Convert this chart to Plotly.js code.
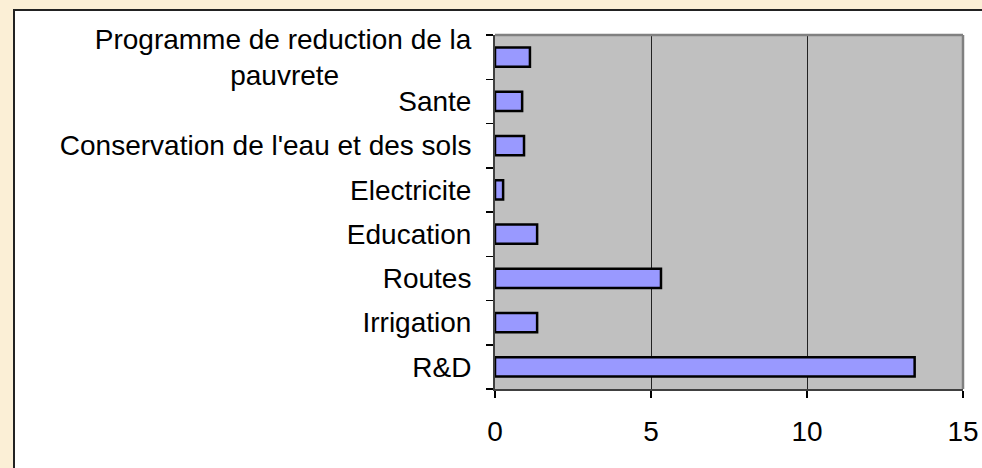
<!DOCTYPE html>
<html>
<head>
<meta charset="utf-8">
<script src="https://cdn.plot.ly/plotly-3.0.1.min.js"></script>
<style>
  html, body { margin: 0; padding: 0; }
  body { width: 982px; height: 468px; overflow: hidden; position: relative;
         background: #fbefd6; }
  #sheet { position: absolute; left: 13px; top: 9px; width: 990px; height: 480px;
           background: #ffffff; border-left: 2px solid #222; border-top: 2px solid #222; }
  #chart { position: absolute; left: 0; top: 0; width: 982px; height: 468px; }
</style>
</head>
<body>
<div id="sheet"></div>
<div id="chart"></div>
<script>
// Categories, bottom to top as drawn
const categories = ['R&D', 'Irrigation', 'Routes', 'Education', 'Electricite',
  "Conservation de l'eau et des sols", 'Sante', 'Programme de reduction de la pauvrete'];

// Tick labels (the long one is wrapped and its second line centred)
const pad = '\u00a0'.repeat(17);
const tickLabels = ['R&D', 'Irrigation', 'Routes', 'Education', 'Electricite',
  "Conservation de l'eau et des sols", 'Sante', 'Programme de reduction de la<br>pauvrete' + pad];

const values = [13.45, 1.35, 5.32, 1.35, 0.26, 0.93, 0.87, 1.12];

const xTicks = [0, 5, 10, 15];

const trace = {
  type: 'bar',
  orientation: 'h',
  y: categories,
  x: values,
  marker: { color: '#9999ff', line: { color: '#000000', width: 2.5 } },
  hoverinfo: 'x+y'
};

const layout = {
  width: 982,
  height: 468,
  paper_bgcolor: 'rgba(0,0,0,0)',
  plot_bgcolor: '#c0c0c0',
  font: { family: 'Liberation Sans, Arial, sans-serif', size: 28, color: '#000' },
  margin: { t: 35, r: 19, b: 79, l: 495 },
  bargap: 0.57,
  showlegend: false,
  xaxis: {
    range: [0, 15],
    tickvals: xTicks,
    ticktext: xTicks.map(String),
    ticks: 'outside', ticklen: 7, tickwidth: 1.5, tickcolor: '#000',
    ticklabelstandoff: 9,
    showgrid: true, gridcolor: '#222', gridwidth: 1,
    zeroline: false,
    showline: true, linecolor: '#404040', linewidth: 2,
    fixedrange: true
  },
  yaxis: {
    type: 'category',
    categoryorder: 'array',
    categoryarray: categories,
    tickvals: categories,
    ticktext: tickLabels,
    tickson: 'boundaries',
    ticks: 'outside', ticklen: 7, tickwidth: 1.5, tickcolor: '#000',
    ticklabelstandoff: 16,
    showgrid: false,
    zeroline: false,
    showline: true, linecolor: '#404040', linewidth: 2,
    fixedrange: true
  },
  shapes: [
    // grey frame on the top and right of the plot area
    { type: 'line', xref: 'paper', yref: 'paper', x0: 0, x1: 1, y0: 1, y1: 1,
      line: { color: '#808080', width: 2.5 } },
    { type: 'line', xref: 'paper', yref: 'paper', x0: 1, x1: 1, y0: 0, y1: 1,
      line: { color: '#808080', width: 2.5 } }
  ]
};

Plotly.newPlot('chart', [trace], layout, { displayModeBar: false, staticPlot: true });
</script>
</body>
</html>
